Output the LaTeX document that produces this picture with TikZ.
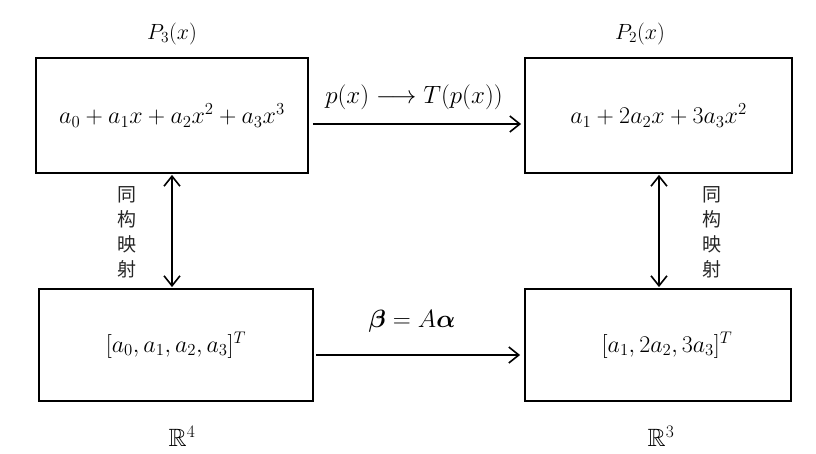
\documentclass[tikz,border=0pt]{standalone}
\usepackage{fix-cm}
\usepackage{amsmath,amssymb,bm}
\usepackage{fontspec}
\newfontfamily\cjk{Noto Sans CJK SC}
\usetikzlibrary{arrows.meta,calc}
\begin{document}
\begin{tikzpicture}[x=1pt,y=-1pt,
  box/.style={draw,line width=1.8pt,rectangle,inner sep=0pt,font=\fontsize{24}{28}\selectfont},
  conn/.style={line width=1.6pt,-{Straight Barb[length=10pt,width=16pt,line width=1.6pt]}},
  dconn/.style={line width=1.6pt,{Straight Barb[length=10pt,width=16pt,line width=1.6pt]}-{Straight Barb[length=10pt,width=16pt,line width=1.6pt]}},
  lab/.style={font=\fontsize{22}{26}\selectfont,inner sep=0pt},
  rlab/.style={font=\fontsize{25}{29}\selectfont,inner sep=0pt},
  biglab/.style={font=\fontsize{25}{29}\selectfont,inner sep=0pt},
  cjklab/.style={font=\cjk\fontsize{19}{25}\selectfont,align=center,inner sep=0pt,text=black!85}]
\useasboundingbox (0,0) rectangle (816,454);
\node[box,minimum width=272pt,minimum height=115pt] (tl) at (172,115.5) {\raisebox{-4pt}{$a_0+a_1x+a_2x^2+a_3x^3$}};
\node[box,minimum width=267pt,minimum height=115pt] (tr) at (658.5,115.5) {\raisebox{-4pt}{$a_1+2a_2x+3a_3x^2$}};
\node[box,minimum width=274pt,minimum height=112pt] (bl) at (176,345) {$[a_0,a_1,a_2,a_3]^T$};
\node[box,minimum width=266pt,minimum height=112pt] (br) at (658,345) {\hspace*{18pt}$[a_1,2a_2,3a_3]^T$};
\node[lab] (p3) at (172,34) {$P_3(x)$};
\node[lab] (p2) at (640,34) {$P_2(x)$};
\node[rlab] (r4) at (182,436) {$\mathbb{R}^4$};
\node[rlab] (r3) at (661,436) {$\mathbb{R}^3$};
\draw[conn] ([xshift=4pt,yshift=-8.5pt]tl.east) -- ([xshift=-3pt,yshift=-8.5pt]tr.west) node[biglab,midway,above=13pt,xshift=-3pt] (tlab) {$p(x)\longrightarrow T(p(x))$};
\draw[conn] ([xshift=2pt,yshift=-10pt]bl.east) -- ([xshift=-4pt,yshift=-10pt]br.west) node[biglab,midway,above=22pt,xshift=-6pt] (blab) {$\bm{\beta}=A\bm{\alpha}$};
\draw[dconn] ([yshift=-1pt]tl.south) -- ([yshift=1pt]tl.south |- bl.north);
\draw[dconn] ([yshift=-1pt,xshift=0.5pt]tr.south) -- ([yshift=1pt,xshift=0.5pt]tr.south |- br.north);
\node[cjklab] (iso1) at (127,232) {同\\构\\映\\射};
\node[cjklab] (iso2) at (712,232) {同\\构\\映\\射};
\end{tikzpicture}
\end{document}
